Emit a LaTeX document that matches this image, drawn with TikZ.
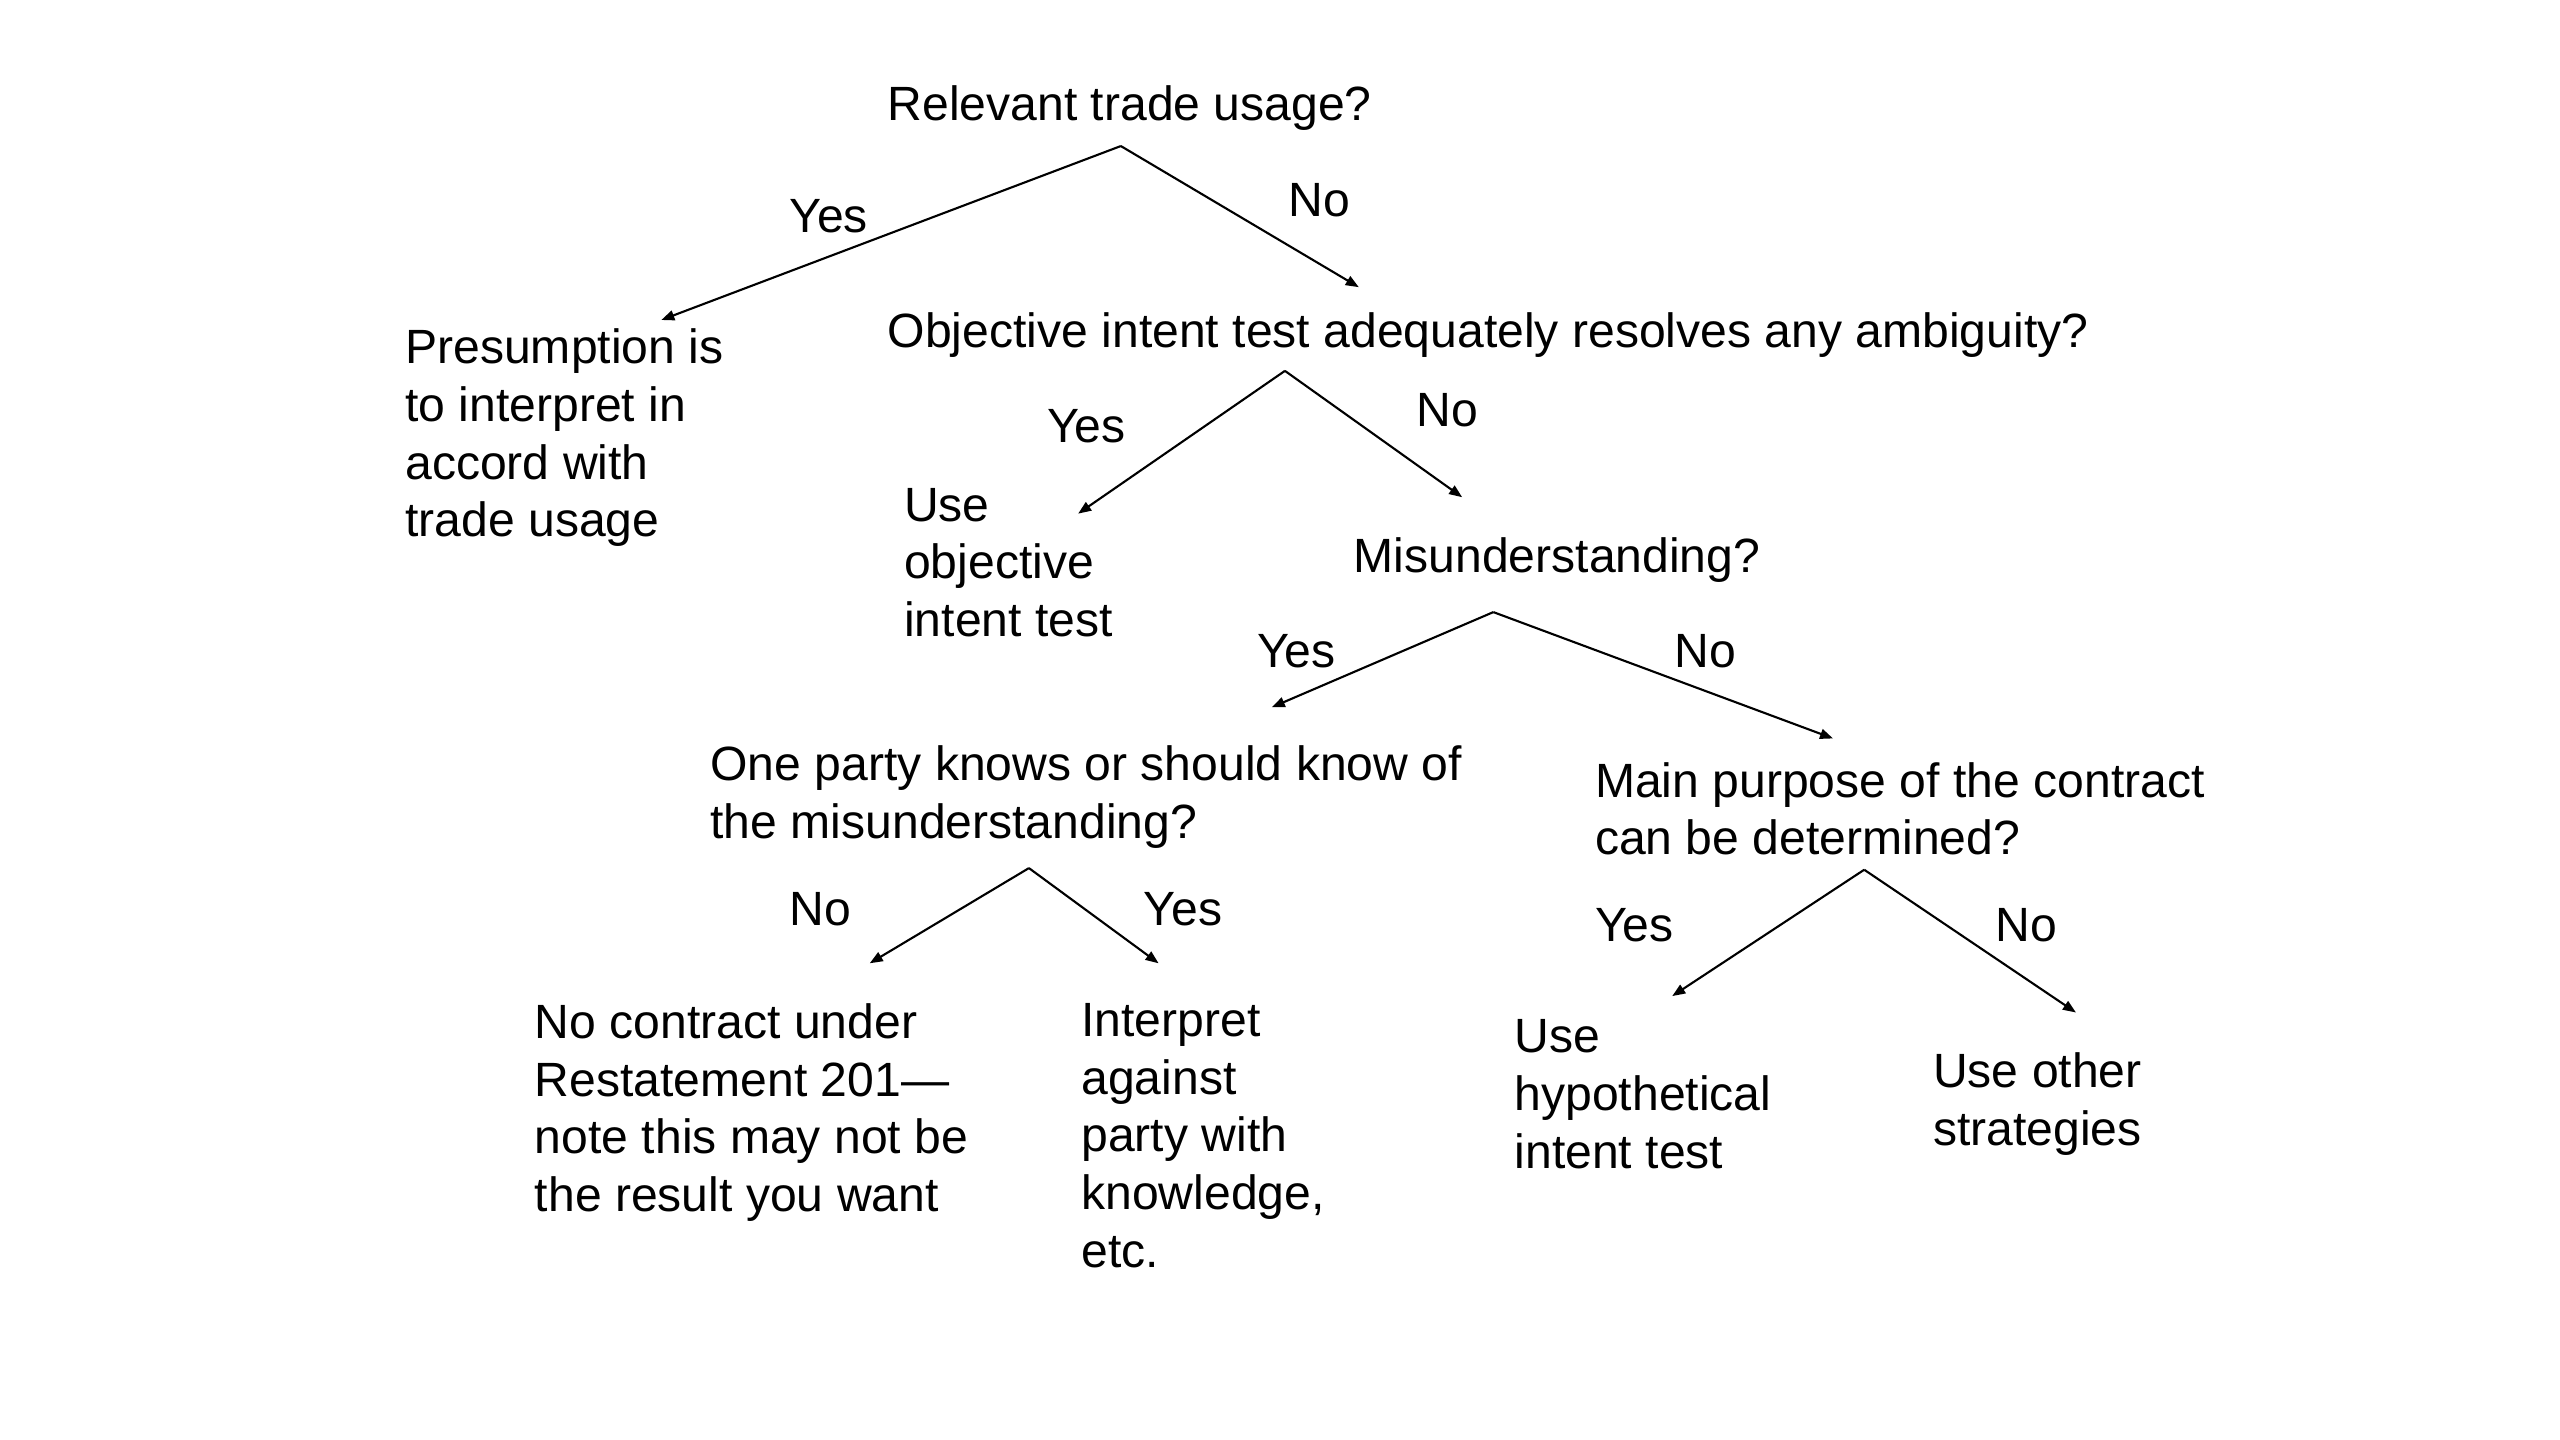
\documentclass[tikz,border=0pt]{standalone}
\usepackage{fontspec}
\setmainfont{Liberation Sans}
\usetikzlibrary{arrows.meta}
\begin{document}
\begin{tikzpicture}[x=0.01641cm,y=-0.01641cm,
  txt/.style={anchor=north west, inner sep=0pt, outer sep=0pt, align=left, font=\fontsize{13.68}{16.4}\selectfont},
  lbl/.style={inner sep=0pt, font=\fontsize{13.68}{16.4}\selectfont},
  arr/.style={-{Triangle[length=0.13cm,width=0.1cm]}, line width=0.6pt, draw=black}]
\useasboundingbox (0,0) rectangle (1560,877.5);
% question and answer texts
\node[txt] (q1) at (541,52.5) {Relevant trade usage?};
\node[txt] (r1) at (247,200.5) {Presumption is\\to interpret in\\accord with\\trade usage};
\node[txt] (q2) at (541,190.5) {Objective intent test adequately resolves any ambiguity?};
\node[txt] (r2) at (551,297.5) {Use\\objective\\intent test};
\node[txt] (q3) at (825,327.5) {Misunderstanding?};
\node[txt] (q4) at (433,454.5) {One party knows or should know of\\the misunderstanding?};
\node[txt] (q5) at (972,464.5) {Main purpose of the contract\\can be determined?};
\node[txt] (r3) at (326,611.5) {No contract under\\Restatement 201—\\note this may not be\\the result you want};
\node[txt] (r4) at (659,611.5) {Interpret\\against\\party with\\knowledge,\\etc.};
\node[txt] (r5) at (923,621.5) {Use\\hypothetical\\intent test};
\node[txt] (r6) at (1178,641.5) {Use other\\strategies};
% branch points and arrow ends
\coordinate (a1) at (683,89);   \coordinate (t1y) at (403,195); \coordinate (t1n) at (828,175);
\coordinate (a2) at (783,226);  \coordinate (t2y) at (657,313); \coordinate (t2n) at (891,303);
\coordinate (a3) at (910,373);  \coordinate (t3y) at (775,431); \coordinate (t3n) at (1117,450);
\coordinate (a4) at (627,529);  \coordinate (t4n) at (530,587); \coordinate (t4y) at (706,587);
\coordinate (a5) at (1136,530); \coordinate (t5y) at (1019,607); \coordinate (t5n) at (1265,617);
\draw[arr] (a1) -- (t1y);
\draw[arr] (a1) -- (t1n);
\draw[arr] (a2) -- (t2y);
\draw[arr] (a2) -- (t2n);
\draw[arr] (a3) -- (t3y);
\draw[arr] (a3) -- (t3n);
\draw[arr] (a4) -- (t4n);
\draw[arr] (a4) -- (t4y);
\draw[arr] (a5) -- (t5y);
\draw[arr] (a5) -- (t5n);
% branch labels
\node[lbl] (l1y) at (505,132) {Yes};
\node[lbl] (l1n) at (804,122) {No};
\node[lbl] (l2y) at (662,260) {Yes};
\node[lbl] (l2n) at (882,250) {No};
\node[lbl] (l3y) at (790,397) {Yes};
\node[lbl] (l3n) at (1039,397) {No};
\node[lbl] (l4n) at (500,554) {No};
\node[lbl] (l4y) at (721,554) {Yes};
\node[lbl] (l5y) at (996,564) {Yes};
\node[lbl] (l5n) at (1235,564) {No};
\end{tikzpicture}
\end{document}
